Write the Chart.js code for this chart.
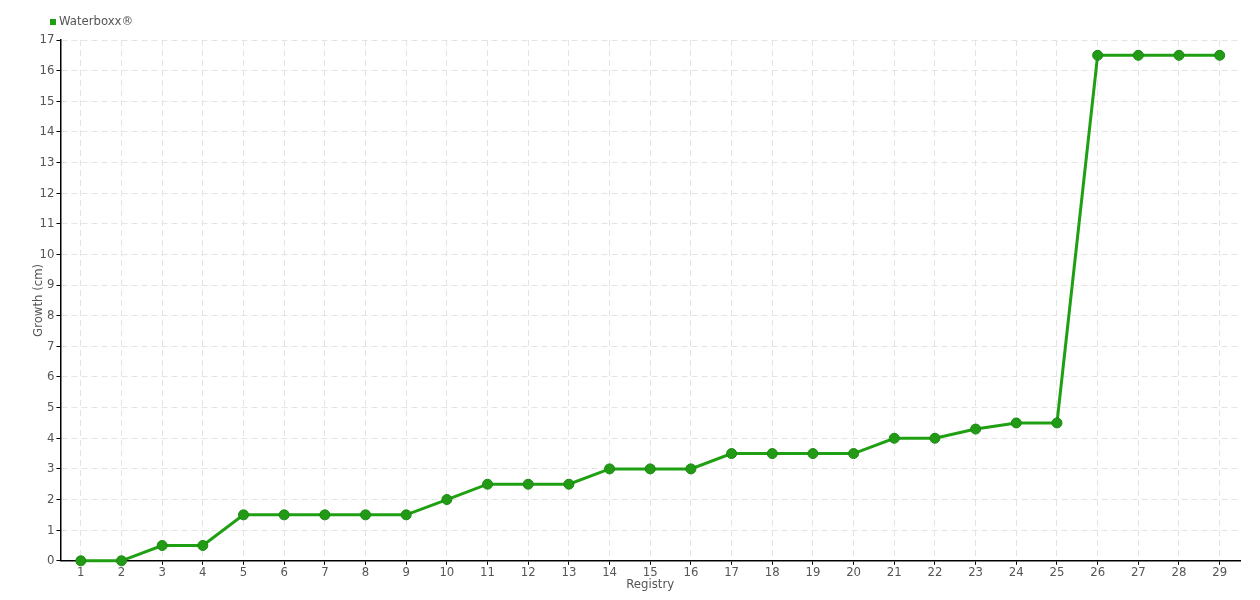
<!DOCTYPE html>
<html>
<head>
<meta charset="utf-8">
<script src="https://cdn.jsdelivr.net/npm/chart.js@4/dist/chart.umd.min.js"></script>
<style>
  html, body { margin: 0; padding: 0; background: #fff; }
  #wrap { width: 1260px; height: 600px; }
</style>
</head>
<body>
<div id="wrap"><canvas id="chart"></canvas></div>
<script>
const registry = [1, 2, 3, 4, 5, 6, 7, 8, 9, 10, 11, 12, 13, 14, 15, 16, 17, 18, 19, 20, 21, 22, 23, 24, 25, 26, 27, 28, 29];
const waterboxx = [0, 0, 0.5, 0.5, 1.5, 1.5, 1.5, 1.5, 1.5, 2, 2.5, 2.5, 2.5, 3, 3, 3, 3.5, 3.5, 3.5, 3.5, 4, 4, 4.3, 4.5, 4.5, 16.5, 16.5, 16.5, 16.5];

const FONT = "'DejaVu Sans Condensed', 'Liberation Sans Narrow', sans-serif";
const TEXT = "#555";
const GREEN = "#1fa012";

const gridStyle = {
  color: "#e4e4e4",
  lineWidth: 1,
  tickColor: "#000",
  tickLength: 4,
};
const axisBorder = { color: "#000", width: 1.5, dash: [6, 4] };

// legend drawn by hand so it can sit where the original puts it
const cornerLegend = {
  id: "cornerLegend",
  afterDraw(chart) {
    const ctx = chart.ctx;
    ctx.save();
    ctx.fillStyle = GREEN;
    ctx.fillRect(50, 19, 6, 6);
    ctx.fillStyle = TEXT;
    ctx.font = "13px " + FONT;
    ctx.textBaseline = "middle";
    ctx.fillText(chart.data.datasets[0].label, 59, 22);
    ctx.restore();
  },
};

new Chart(document.getElementById("chart"), {
  type: "line",
  data: {
    labels: registry,
    datasets: [
      {
        label: "Waterboxx®",
        data: waterboxx,
        borderColor: GREEN,
        backgroundColor: GREEN,
        borderWidth: 3,
        tension: 0,
        clip: false,
        pointRadius: 5,
        pointBackgroundColor: "#229a16",
        pointBorderColor: "#178a0e",
        pointBorderWidth: 1,
      },
    ],
  },
  options: {
    responsive: true,
    maintainAspectRatio: false,
    animation: false,
    layout: { padding: { left: 22, right: 20, top: 40, bottom: 8 } },
    plugins: {
      legend: { display: false },
      tooltip: { enabled: false },
    },
    scales: {
      x: {
        type: "category",
        offset: true,
        border: axisBorder,
        grid: { ...gridStyle, offset: false },
        ticks: { color: TEXT, font: { family: FONT, size: 13 }, padding: 0, maxRotation: 0 },
        title: { display: true, text: "Registry", color: TEXT, font: { family: FONT, size: 13 }, padding: { top: -4, bottom: 0 } },
      },
      y: {
        min: 0,
        max: 17,
        border: axisBorder,
        grid: gridStyle,
        ticks: { stepSize: 1, color: TEXT, font: { family: FONT, size: 13 }, padding: 2 },
        title: { display: true, text: "Growth (cm)", color: TEXT, font: { family: FONT, size: 13 }, padding: { top: 9, bottom: -9 } },
      },
    },
  },
  plugins: [cornerLegend],
});
</script>
</body>
</html>
